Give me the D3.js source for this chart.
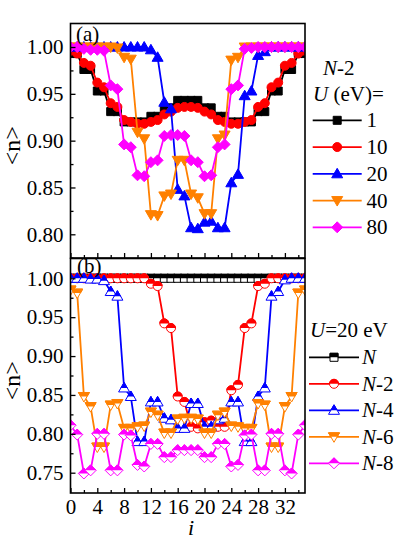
<!DOCTYPE html>
<html>
<head>
<meta charset="utf-8">
<script src="https://cdnjs.cloudflare.com/ajax/libs/d3/7.8.5/d3.min.js"></script>
<style>
  body { margin: 0; background: #fff; }
  svg { display: block; }
</style>
</head>
<body>
<svg id="chart" width="399" height="540"></svg>
<script>
// site index i
var sites = [0,1,2,3,4,5,6,7,8,9,10,11,12,13,14,15,16,17,18,19,20,21,22,23,24,25,26,27,28,29,30,31,32,33,34,35];

// panel (a): N-2, different U (eV)
var u1  = [0.993,0.993,0.976,0.976,0.953,0.953,0.931,0.931,0.920,0.920,0.920,0.920,0.926,0.926,0.935,0.935,0.943,0.943,
           0.943,0.943,0.935,0.935,0.926,0.926,0.920,0.920,0.920,0.920,0.931,0.931,0.953,0.953,0.976,0.976,0.993,0.993];
var u10 = [0.996,0.993,0.983,0.980,0.962,0.957,0.940,0.936,0.922,0.920,0.918,0.918,0.920,0.922,0.928,0.931,0.935,0.936,
           0.936,0.935,0.931,0.928,0.922,0.920,0.918,0.918,0.920,0.922,0.936,0.940,0.957,0.962,0.980,0.983,0.993,0.996];
var u20 = [1.000,1.000,1.000,1.000,1.000,1.000,1.000,1.000,1.000,1.000,1.000,1.000,0.997,0.989,0.941,0.934,0.848,0.841,
           0.807,0.806,0.813,0.814,0.807,0.807,0.855,0.864,0.948,0.953,0.991,0.995,1.000,1.000,1.000,1.000,1.000,1.000];
var u40 = [1.000,1.000,1.000,1.000,1.000,1.000,1.000,0.999,0.989,0.987,0.909,0.902,0.821,0.820,0.841,0.843,0.879,0.879,
           0.843,0.839,0.822,0.822,0.902,0.906,0.986,0.989,1.000,1.000,1.000,1.000,1.000,1.000,1.000,1.000,1.000,1.000];
var u80 = [1.000,1.000,0.998,0.997,0.997,0.996,0.959,0.955,0.896,0.893,0.863,0.862,0.877,0.879,0.905,0.906,0.906,0.905,
           0.879,0.877,0.862,0.863,0.893,0.896,0.955,0.959,0.998,0.999,1.000,1.000,1.000,1.000,1.000,1.000,1.000,1.000];

// panel (b): U = 20 eV, different fillings
var nN  = [1,1,1,1,1,1,1,1,1,1,1,1,1,1,1,1,1,1,1,1,1,1,1,1,1,1,1,1,1,1,1,1,1,1,1,1];
var nN2 = [1.000,1.000,1.000,1.000,1.000,1.000,1.000,1.000,1.000,1.000,1.000,1.000,0.993,0.990,0.942,0.936,0.848,0.841,
           0.809,0.807,0.815,0.817,0.809,0.809,0.856,0.863,0.936,0.942,0.990,0.993,1.000,1.000,1.000,1.000,1.000,1.000];
var nN4 = [1.000,1.000,1.000,0.999,0.999,0.997,0.983,0.977,0.859,0.848,0.790,0.790,0.841,0.841,0.820,0.818,0.807,0.807,
           0.839,0.839,0.809,0.809,0.818,0.820,0.841,0.841,0.790,0.790,0.848,0.859,0.977,0.983,0.998,1.000,1.000,1.000];
var nN6 = [0.985,0.981,0.848,0.835,0.783,0.783,0.837,0.839,0.807,0.807,0.809,0.810,0.828,0.824,0.801,0.801,0.819,0.820,
           0.820,0.819,0.801,0.801,0.824,0.828,0.810,0.809,0.807,0.807,0.839,0.837,0.783,0.783,0.835,0.848,0.981,0.985];
var nN8 = [0.811,0.799,0.749,0.753,0.800,0.800,0.753,0.753,0.799,0.798,0.760,0.758,0.787,0.787,0.770,0.770,0.779,0.779,
           0.779,0.779,0.770,0.770,0.787,0.787,0.758,0.760,0.798,0.799,0.753,0.753,0.800,0.800,0.753,0.749,0.799,0.811];

var xTicks = [0,4,8,12,16,20,24,28,32];
var xMinor = [2,6,10,14,18,22,26,30,34];
var yTicksA = [0.80,0.85,0.90,0.95,1.00];
var yMinorA = [0.775,0.825,0.875,0.925,0.975];
var yTicksB = [0.75,0.80,0.85,0.90,0.95,1.00];
var yMinorB = [0.775,0.825,0.875,0.925,0.975];

var labelsA = ["1","10","20","40","80"];
var labelsB = ["-2","-4","-6","-8"];   // after an italic N; first entry is plain N
var colors = ["#000000","#ff0000","#0000ff","#ff8000","#ff00ff"];
var shapes = ["square","circle","up","down","diamond"];

var FONT = "'Liberation Serif','Times New Roman',serif";
var svg = d3.select("#chart");

// ---- layout ----
var left = 70.5, right = 305;
var x = d3.scaleLinear().domain([0, 35]).range([left, right]);

var panelA = {top: 23.5, bottom: 258,
  y: d3.scaleLinear().domain([0.80, 1.00]).range([234.3, 47])};
var panelB = {top: 258.5, bottom: 493,
  y: d3.scaleLinear().domain([0.75, 1.00]).range([472.7, 278.3])};

// marker shapes, centred on 0,0
function shapePath(type) {
  if (type === "square") return "M-4,-4H4V4H-4Z";
  if (type === "circle") return "M-4.5,0A4.5,4.5 0 1,0 4.5,0A4.5,4.5 0 1,0 -4.5,0Z";
  if (type === "up") return "M0,-5.5L5.5,4L-5.5,4Z";
  if (type === "down") return "M0,5.5L5.5,-4L-5.5,-4Z";
  return "M0,-5.5L5.5,0L0,5.5L-5.5,0Z";
}

var defs = svg.append("defs");
defs.append("clipPath").attr("id", "topHalf")
  .append("rect").attr("x", -8).attr("y", -8).attr("width", 16).attr("height", 8);
defs.append("clipPath").attr("id", "clipA")
  .append("rect").attr("x", left).attr("y", panelA.top)
  .attr("width", right - left).attr("height", panelA.bottom - panelA.top);
defs.append("clipPath").attr("id", "clipB")
  .append("rect").attr("x", left).attr("y", panelB.top)
  .attr("width", right - left).attr("height", panelB.bottom - panelB.top);

function marker(g, type, color, half) {
  if (half) {
    g.append("path").attr("d", shapePath(type))
      .attr("fill", "#fff").attr("stroke", color).attr("stroke-width", 1);
    g.append("path").attr("d", shapePath(type))
      .attr("fill", color).attr("stroke", color).attr("stroke-width", 1)
      .attr("clip-path", "url(#topHalf)");
  } else {
    g.append("path").attr("d", shapePath(type))
      .attr("fill", color).attr("stroke", color).attr("stroke-width", 1);
  }
}

function drawPanel(panel, clipId, series, half, yTicks, yMinor, xLabels) {
  var y = panel.y;
  var plot = svg.append("g").attr("clip-path", "url(#" + clipId + ")");

  var line = d3.line()
    .x(function(d, i) { return x(sites[i]); })
    .y(function(d) { return y(d); });

  series.forEach(function(values, k) {
    var g = plot.append("g");
    g.append("path").datum(values)
      .attr("fill", "none")
      .attr("stroke", colors[k])
      .attr("stroke-width", 1.8)
      .attr("d", line);
    g.selectAll("g.pt").data(values).enter()
      .append("g").attr("class", "pt")
      .attr("transform", function(d, i) { return "translate(" + x(sites[i]) + "," + y(d) + ")"; })
      .each(function() { marker(d3.select(this), shapes[k], colors[k], half); });
  });

  // y axis, ticks inward
  var ya = svg.append("g").attr("transform", "translate(" + left + ",0)")
    .call(d3.axisLeft(y).tickValues(yTicks).tickSize(-5).tickPadding(7).tickFormat(d3.format(".2f")));
  var ym = svg.append("g").attr("transform", "translate(" + left + ",0)")
    .call(d3.axisLeft(y).tickValues(yMinor).tickSize(-3).tickFormat(""));

  // x axis, ticks inward
  var xa = svg.append("g").attr("transform", "translate(0," + panel.bottom + ")")
    .call(d3.axisBottom(x).tickValues(xTicks).tickSize(-5).tickPadding(6)
      .tickFormat(xLabels ? d3.format("d") : ""));
  var xm = svg.append("g").attr("transform", "translate(0," + panel.bottom + ")")
    .call(d3.axisBottom(x).tickValues(xMinor).tickSize(-3).tickFormat(""));

  [ya, ym, xa, xm].forEach(function(a) {
    a.select(".domain").remove();
    a.selectAll("line").attr("stroke", "#000").attr("stroke-width", 1.3);
    a.attr("font-family", FONT).attr("font-size", 21);
    a.selectAll("text").attr("fill", "#000");
  });

  // frame
  svg.append("rect")
    .attr("x", left).attr("y", panel.top)
    .attr("width", right - left).attr("height", panel.bottom - panel.top)
    .attr("fill", "none").attr("stroke", "#000").attr("stroke-width", 1.6);

  // y label
  svg.append("text")
    .attr("transform", "translate(20," + ((panel.top + panel.bottom) / 2 + 5) + ") rotate(-90)")
    .attr("text-anchor", "middle")
    .attr("font-family", FONT).attr("font-size", 24)
    .text("<n>");
}

drawPanel(panelA, "clipA", [u1, u10, u20, u40, u80], false, yTicksA, yMinorA, false);
drawPanel(panelB, "clipB", [nN, nN2, nN4, nN6, nN8], true, yTicksB, yMinorB, true);

// panel tags
svg.append("text").attr("x", 76).attr("y", 41)
  .attr("font-family", FONT).attr("font-size", 21).text("(a)");
svg.append("text").attr("x", 77).attr("y", 273)
  .attr("font-family", FONT).attr("font-size", 21).text("(b)");

// x label
svg.append("text").attr("x", 191).attr("y", 535)
  .attr("text-anchor", "middle")
  .attr("font-family", FONT).attr("font-size", 22).attr("font-style", "italic")
  .text("i");

// legend (a)
var la = svg.append("g").attr("font-family", FONT).attr("font-size", 21);
var t1 = la.append("text").attr("x", 323).attr("y", 75);
t1.append("tspan").attr("font-style", "italic").text("N");
t1.append("tspan").text("-2");
var t2 = la.append("text").attr("x", 313).attr("y", 101);
t2.append("tspan").attr("font-style", "italic").text("U");
t2.append("tspan").text(" (eV)=");

labelsA.forEach(function(lab, k) {
  var yy = 120.3 + k * 26.75;
  la.append("line").attr("x1", 312.7).attr("x2", 361.7).attr("y1", yy).attr("y2", yy)
    .attr("stroke", colors[k]).attr("stroke-width", 1.8);
  marker(la.append("g").attr("transform", "translate(337.2," + yy + ")"), shapes[k], colors[k], false);
  la.append("text").attr("x", 366.5).attr("y", yy + 7).text(lab);
});

// legend (b)
var lb = svg.append("g").attr("font-family", FONT).attr("font-size", 21);
var t3 = lb.append("text").attr("x", 310).attr("y", 337);
t3.append("tspan").attr("font-style", "italic").text("U");
t3.append("tspan").text("=20 eV");

colors.forEach(function(c, k) {
  var yy = 357.3 + k * 26.5;
  lb.append("line").attr("x1", 309).attr("x2", 359).attr("y1", yy).attr("y2", yy)
    .attr("stroke", c).attr("stroke-width", 1.8);
  marker(lb.append("g").attr("transform", "translate(334," + yy + ")"), shapes[k], c, true);
  var t = lb.append("text").attr("x", 362).attr("y", yy + 7);
  t.append("tspan").attr("font-style", "italic").text("N");
  if (k > 0) t.append("tspan").text(labelsB[k - 1]);
});
</script>
</body>
</html>
